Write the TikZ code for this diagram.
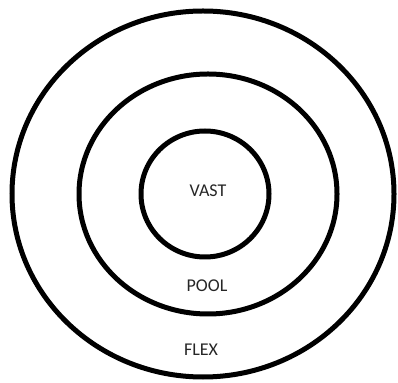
\documentclass[tikz,border=0pt]{standalone}
\usepackage{fontspec}
\setmainfont{Carlito}
\usetikzlibrary{shapes.geometric}
\begin{document}
\begin{tikzpicture}[x=1pt,y=1pt,
  ring/.style={draw=black,line width=5pt,ellipse,inner sep=0pt},
  lbl/.style={font=\fontsize{18}{20}\selectfont,text=black!85,inner sep=0pt}]
\useasboundingbox (0,0) rectangle (398,382);
\node[ring,minimum width=382pt,minimum height=366pt] (outer) at (203,188) {};
\node[ring,minimum width=258pt,minimum height=240pt] (middle) at (208,188) {};
\node[ring,minimum width=128pt,minimum height=126pt] (inner) at (205,188) {};
\node[lbl] (vast) at (208,191) {VAST};
\node[lbl] (pool) at (207,96) {POOL};
\node[lbl] (flex) at (201,32) {FLEX};
\end{tikzpicture}
\end{document}
